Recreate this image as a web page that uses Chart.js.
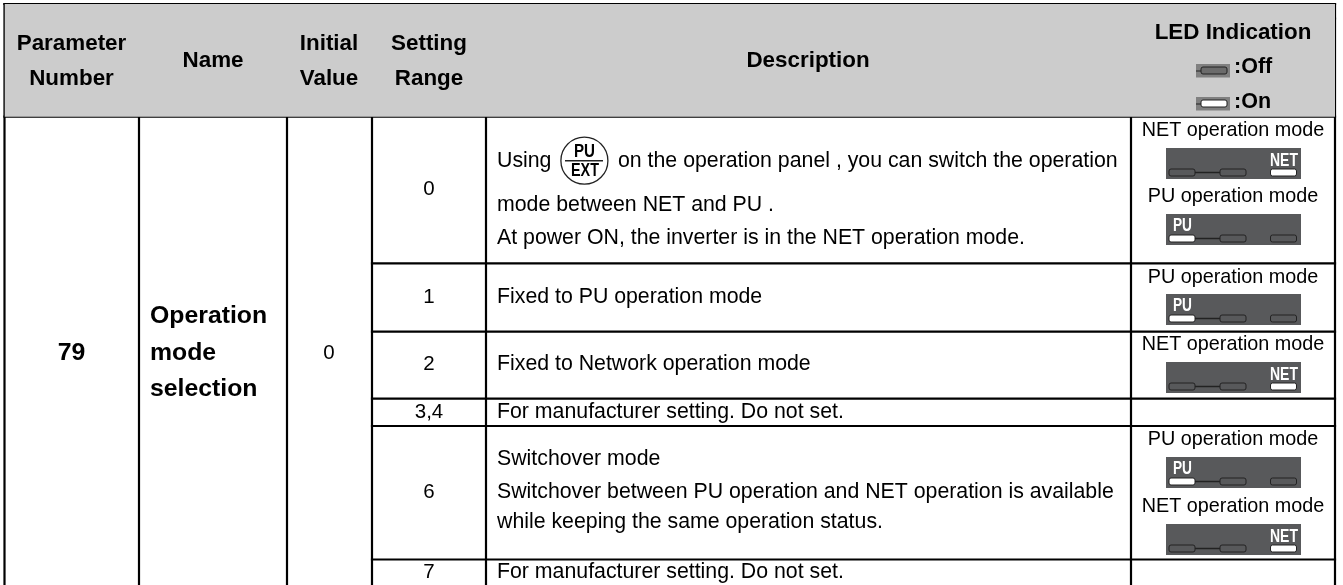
<!DOCTYPE html>
<html><head><meta charset="utf-8">
<style>html,body{margin:0;padding:0;background:#fff}#w{position:relative;width:1343px;height:585px}canvas{display:block}</style>
<script src="https://cdn.jsdelivr.net/npm/chart.js@4/dist/chart.umd.min.js"></script>
</head><body><div id="w"><canvas id="c" width="1343" height="585"></canvas></div>
<script>
const columnEdges=[4.5,139,287,372,486,1131,1335];
const headerTop=4, headerBottom=116.7, ledTop=18.5, tableEnd=585;
const settingRows=[263.3,331.7,398.7,426,559.5];
const headerLabels=[
 ["Parameter",71.5,44],["Number",71.5,79],["Name",213,61],["Initial",329,44],["Value",329,79],
 ["Setting",429,44],["Range",429,79],["Description",808,61],["LED Indication",1233,32.7]];
const nameLines=[["Operation",150,316],["mode",150,353],["selection",150,389]];
const settingValues=[["0",429,189.5],["1",429,297],["2",429,364],["3,4",429,412],["6",429,492],["7",429,572.5]];
const descLines=[
 ["Using",497,161.5],["on the operation panel , you can switch the operation",618,161.5],
 ["mode between NET and PU .",497,205.5],["At power ON, the inverter is in the NET operation mode.",497,238],
 ["Fixed to PU operation mode",497,297.3],["Fixed to Network operation mode",497,364.3],
 ["For manufacturer setting. Do not set.",497,412],
 ["Switchover mode",497,459.5],["Switchover between PU operation and NET operation is available",497,491.7],
 ["while keeping the same operation status.",497,522.6],["For manufacturer setting. Do not set.",497,572.5]];
const modeCaptions=[["NET operation mode",1233,131],["PU operation mode",1233,197],["PU operation mode",1233,278],["NET operation mode",1233,345],["PU operation mode",1233,440],["NET operation mode",1233,506.7]];
const modePanels=[["NET",148],["PU",214],["PU",294],["NET",362],["PU",457],["NET",524]];
const legendRows=[[":Off",64,67,false],[":On",97,102,true]];

const rules=[];
columnEdges.forEach((x,i)=>{ if(i<5||i==6) rules.push([[x,headerTop],[x,tableEnd]]); });
rules.push([[columnEdges[5],ledTop],[columnEdges[5],tableEnd]]);
rules.push([[columnEdges[5],ledTop],[columnEdges[6],ledTop]]);
rules.push([[columnEdges[0],headerTop],[columnEdges[6],headerTop]]);
rules.push([[columnEdges[0],headerBottom],[columnEdges[6],headerBottom]]);
settingRows.forEach(y=>rules.push([[columnEdges[3],y],[columnEdges[6],y]]));
const datasets=[{data:[{x:columnEdges[0],y:headerTop},{x:columnEdges[6],y:headerTop}],showLine:true,pointRadius:0,borderWidth:0,backgroundColor:'#cccccc',fill:{value:headerBottom}}];
rules.forEach(r=>datasets.push({data:r.map(p=>({x:p[0],y:p[1]})),showLine:true,pointRadius:0,borderColor:'#000',borderWidth:2.2,borderCapStyle:'square',fill:false}));

const BODY='Liberation Sans, Arial, sans-serif';
function rr(g,x,y,w,h,r){g.beginPath();g.roundRect(x,y,w,h,r);}
function led(g,X,Y,x,y,on){rr(g,X(x),Y(y),26,7,2);g.fillStyle=on?'#fff':'#58595b';g.fill();g.lineWidth=1;g.strokeStyle='#222';g.stroke();}
const tablePlugin={id:'table',afterDatasetsDraw(ch){
 const g=ch.ctx,X=v=>ch.scales.x.getPixelForValue(v),Y=v=>ch.scales.y.getPixelForValue(v);
 g.save();g.textBaseline='middle';g.fillStyle='#000';
 const t=(s,x,y,f,a,m)=>{g.font=f;g.textAlign=a;g.fillStyle='#000';if(m)g.fillText(s,X(x),Y(y),m);else g.fillText(s,X(x),Y(y));};
 headerLabels.forEach(l=>t(l[0],l[1],l[2],'bold 22.4px '+BODY,'center'));
 nameLines.forEach(l=>t(l[0],l[1],l[2],'bold 24.8px '+BODY,'left'));
 t("79",71.5,353,'bold 24.8px '+BODY,'center');
 t("0",329,353,'20.5px '+BODY,'center');
 settingValues.forEach(l=>t(l[0],l[1],l[2],'20.5px '+BODY,'center'));
 descLines.forEach(l=>t(l[0],l[1],l[2],'21.3px '+BODY,'left'));
 modeCaptions.forEach(l=>t(l[0],l[1],l[2],'19.8px '+BODY,'center'));
 // PU/EXT key
 g.strokeStyle='#222';g.lineWidth=1.3;g.beginPath();g.arc(X(584.4),Y(160.7),23.5,0,7);g.stroke();
 g.lineWidth=1.6;g.beginPath();g.moveTo(X(565),Y(160.7));g.lineTo(X(603),Y(160.7));g.stroke();
 t("PU",584.5,152,'bold 18px '+BODY,'center',21);t("EXT",585,171.5,'bold 18px '+BODY,'center',28);
 // LED panels
 modePanels.forEach(([k,y])=>{
  g.fillStyle='#58595b';g.fillRect(X(1166),Y(y),135,31);
  g.strokeStyle='#222';g.lineWidth=1.5;g.beginPath();g.moveTo(X(1195),Y(y+24.5));g.lineTo(X(1220),Y(y+24.5));g.stroke();
  led(g,X,Y,1169,y+21,k=='PU');led(g,X,Y,1220,y+21,false);led(g,X,Y,1270.5,y+21,k=='NET');
  g.fillStyle='#fff';g.font='bold 18px '+BODY;g.textAlign='center';
  if(k=='PU')g.fillText('PU',X(1182.5),Y(y+12),19);else g.fillText('NET',X(1284),Y(y+13.5),28);
 });
 // legend
 legendRows.forEach(([s,y,ty,on])=>{
  g.fillStyle='#808080';g.fillRect(X(1196),Y(y),34,13.5);
  g.strokeStyle='#222';g.lineWidth=1;g.beginPath();g.moveTo(X(1196),Y(y+7));g.lineTo(X(1201),Y(y+7));g.stroke();
  rr(g,X(1201),Y(y+3),26,7,2);g.fillStyle=on?'#fff':'#6b6b6b';g.fill();g.stroke();
  t(s,1234,ty,'bold 21.5px '+BODY,'left');
 });
 g.restore();
}};
new Chart(document.getElementById('c'),{type:'scatter',data:{datasets},plugins:[tablePlugin],options:{
 responsive:false,animation:false,layout:{padding:0},
 plugins:{legend:{display:false},tooltip:{enabled:false}},
 scales:{x:{type:'linear',min:0,max:1343,display:false},y:{type:'linear',min:0,max:585,reverse:true,display:false}}
}});
</script></body></html>
